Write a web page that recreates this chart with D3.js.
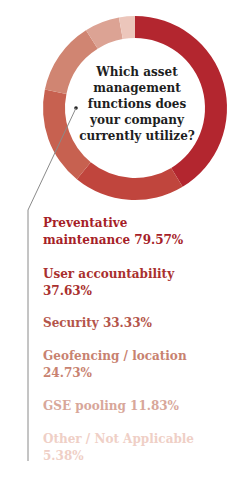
<!DOCTYPE html>
<html>
<head>
<meta charset="utf-8">
<title>asset management donut</title>
<script src="https://d3js.org/d3.v7.min.js"></script>
<style>
  html, body { margin: 0; padding: 0; background: #fff; }
  svg { font-family: 'DejaVu Serif', serif; display: block; }
</style>
</head>
<body>
<div id="chart"></div>
<script>
// data
const categories = ['Preventative maintenance', 'User accountability', 'Security',
                    'Geofencing / location', 'GSE pooling', 'Other / Not Applicable'];
const values = [79.57, 37.63, 33.33, 24.73, 11.83, 5.38];
const sliceColors = ['#b3262f', '#c0453d', '#c76150', '#d08572', '#dca394', '#ecc6bb'];
const textColors = ['#a61e28', '#a9302e', '#b4554a', '#c88270', '#d8a79a', '#efcfc6'];
// label lines as printed
const labelLines = [
  ['Preventative', 'maintenance 79.57%'],
  ['User accountability', '37.63%'],
  ['Security 33.33%'],
  ['Geofencing / location', '24.73%'],
  ['GSE pooling 11.83%'],
  ['Other / Not Applicable', '5.38%']
];
const question = ['Which asset', 'management', 'functions does', 'your company', 'currently utilize?'];

const W = 250, H = 486;
const cx = 135, cy = 108, rOut = 92, rIn = 70;

const svg = d3.select('#chart').append('svg')
  .attr('width', W).attr('height', H);

// donut
const pie = d3.pie().sort(null).value(d => d);
const arc = d3.arc().innerRadius(rIn).outerRadius(rOut);
const g = svg.append('g').attr('transform', `translate(${cx},${cy})`);
g.selectAll('path')
  .data(pie(values))
  .join('path')
  .attr('d', arc)
  .attr('fill', (d, i) => sliceColors[i]);

// question in the middle
const lineY = d3.scaleLinear().domain([0, question.length - 1]).range([76, 140]);
svg.append('g').selectAll('text')
  .data(question)
  .join('text')
  .attr('x', cx + 2)
  .attr('y', (d, i) => lineY(i))
  .attr('text-anchor', 'middle')
  .attr('font-size', 12)
  .attr('font-weight', 'bold')
  .attr('fill', '#1e1e1e')
  .text(d => d);

// leader line with dot
svg.append('circle').attr('cx', 76).attr('cy', 108).attr('r', 1.8).attr('fill', '#222');
svg.append('path')
  .attr('d', 'M76,108 L28,210 L28,461')
  .attr('fill', 'none')
  .attr('stroke', '#8a8a8a')
  .attr('stroke-width', 1);

// labels
const blockY = [227, 278, 327, 360, 410, 443];
const lab = svg.append('g');
labelLines.forEach((lines, i) => {
  lab.append('text')
    .attr('x', 43)
    .attr('y', blockY[i])
    .attr('font-size', 12)
    .attr('font-weight', 'bold')
    .attr('fill', textColors[i])
    .selectAll('tspan')
    .data(lines)
    .join('tspan')
    .attr('x', 43)
    .attr('dy', (d, j) => j ? 17 : 0)
    .text(d => d);
});
</script>
</body>
</html>
